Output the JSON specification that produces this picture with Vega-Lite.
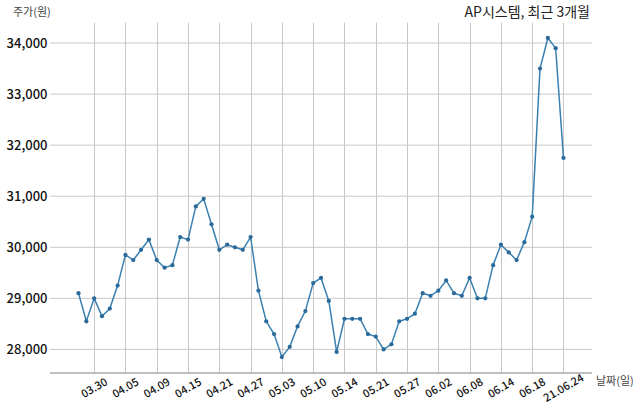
{
  "$schema": "https://vega.github.io/schema/vega-lite/v6.json",
  "autosize": {"type": "none"},
  "padding": {"left": 50, "top": 22, "right": 48, "bottom": 41},
  "width": 542,
  "height": 351,
  "background": "white",
  "config": {"view": {"stroke": null}, "font": "Noto Sans CJK KR"},
  "datasets": {"stock": [
    {"date": "03.26", "price": 29100},
    {"date": "03.29", "price": 28550},
    {"date": "03.30", "price": 29000},
    {"date": "03.31", "price": 28650},
    {"date": "04.01", "price": 28800},
    {"date": "04.02", "price": 29250},
    {"date": "04.05", "price": 29850},
    {"date": "04.06", "price": 29750},
    {"date": "04.07", "price": 29950},
    {"date": "04.08", "price": 30150},
    {"date": "04.09", "price": 29750},
    {"date": "04.12", "price": 29600},
    {"date": "04.13", "price": 29650},
    {"date": "04.14", "price": 30200},
    {"date": "04.15", "price": 30150},
    {"date": "04.16", "price": 30800},
    {"date": "04.19", "price": 30950},
    {"date": "04.20", "price": 30450},
    {"date": "04.21", "price": 29950},
    {"date": "04.22", "price": 30050},
    {"date": "04.23", "price": 30000},
    {"date": "04.26", "price": 29950},
    {"date": "04.27", "price": 30200},
    {"date": "04.28", "price": 29150},
    {"date": "04.29", "price": 28550},
    {"date": "04.30", "price": 28300},
    {"date": "05.03", "price": 27850},
    {"date": "05.04", "price": 28050},
    {"date": "05.06", "price": 28450},
    {"date": "05.07", "price": 28750},
    {"date": "05.10", "price": 29300},
    {"date": "05.11", "price": 29400},
    {"date": "05.12", "price": 28950},
    {"date": "05.13", "price": 27950},
    {"date": "05.14", "price": 28600},
    {"date": "05.17", "price": 28600},
    {"date": "05.18", "price": 28600},
    {"date": "05.20", "price": 28300},
    {"date": "05.21", "price": 28250},
    {"date": "05.24", "price": 28000},
    {"date": "05.25", "price": 28100},
    {"date": "05.26", "price": 28550},
    {"date": "05.27", "price": 28600},
    {"date": "05.28", "price": 28700},
    {"date": "05.31", "price": 29100},
    {"date": "06.01", "price": 29050},
    {"date": "06.02", "price": 29150},
    {"date": "06.03", "price": 29350},
    {"date": "06.04", "price": 29100},
    {"date": "06.07", "price": 29050},
    {"date": "06.08", "price": 29400},
    {"date": "06.09", "price": 29000},
    {"date": "06.10", "price": 29000},
    {"date": "06.11", "price": 29650},
    {"date": "06.14", "price": 30050},
    {"date": "06.15", "price": 29900},
    {"date": "06.16", "price": 29750},
    {"date": "06.17", "price": 30100},
    {"date": "06.18", "price": 30600},
    {"date": "06.21", "price": 33500},
    {"date": "06.22", "price": 34100},
    {"date": "06.23", "price": 33900},
    {"date": "21.06.24", "price": 31750}
  ]},
  "layer": [
    {
      "data": {"values": [{"level": 28000}, {"level": 29000}, {"level": 30000}, {"level": 31000}, {"level": 32000}, {"level": 33000}, {"level": 34000}]},
      "mark": {"type": "rule", "color": "#c8c8c8", "strokeWidth": 1},
      "encoding": {
        "y": {
          "field": "level", "type": "quantitative",
          "scale": {"domain": [27537.5, 34412.5], "nice": false, "zero": false},
          "axis": {
            "title": null, "values": [28000, 29000, 30000, 31000, 32000, 33000, 34000],
            "format": ",d", "labelFontSize": 13, "labelColor": "#111", "labelFont": "Noto Sans CJK KR",
            "labelFontWeight": 500, "labelPadding": 3,
            "grid": false, "ticks": false, "domain": false
          }
        }
      }
    },
    {
      "data": {"values": [{"level": 27537.5}]},
      "mark": {"type": "rule", "color": "#aaaaaa", "strokeWidth": 1.3},
      "encoding": {"y": {"field": "level", "type": "quantitative"}}
    },
    {
      "data": {"name": "stock"},
      "encoding": {
        "x": {
          "field": "date", "type": "ordinal", "sort": null,
          "scale": {"type": "point", "range": [24.6, 517.4]},
          "axis": {
            "title": null,
            "values": ["03.30", "04.05", "04.09", "04.15", "04.21", "04.27", "05.03", "05.10", "05.14", "05.21", "05.27", "06.02", "06.08", "06.14", "06.18", "21.06.24"],
            "labelAngle": -30, "labelAlign": "center", "labelBaseline": "middle",
            "labelFontSize": 11, "labelColor": "#111", "labelPadding": 15,
            "labelFont": "Noto Sans CJK KR", "labelFontWeight": 500,
            "grid": true, "gridColor": "#c8c8c8", "gridWidth": 1,
            "ticks": false, "domain": false
          }
        },
        "y": {
          "field": "price", "type": "quantitative",
          "scale": {"domain": [27537.5, 34412.5], "nice": false, "zero": false},
          "axis": {
            "title": null, "values": [28000, 29000, 30000, 31000, 32000, 33000, 34000],
            "format": ",d", "labelFontSize": 13, "labelColor": "#111", "labelFont": "Noto Sans CJK KR",
            "labelFontWeight": 500, "labelPadding": 3,
            "grid": false, "ticks": false, "domain": false
          }
        }
      },
      "layer": [
        {"mark": {"type": "line", "color": "#3a80b0", "strokeWidth": 1.5}},
        {"mark": {"type": "point", "filled": true, "color": "#2a6a9a", "size": 18, "opacity": 1}}
      ]
    },
    {
      "data": {"values": [{"t": "주가(원)"}]},
      "mark": {"type": "text", "align": "left", "baseline": "alphabetic", "fontSize": 11, "color": "#444", "x": -37, "y": -6},
      "encoding": {"text": {"field": "t"}}
    },
    {
      "data": {"values": [{"t": "AP시스템, 최근 3개월"}]},
      "mark": {"type": "text", "align": "right", "baseline": "alphabetic", "fontSize": 14, "color": "#222", "x": 540, "y": -5},
      "encoding": {"text": {"field": "t"}}
    },
    {
      "data": {"values": [{"t": "날짜(일)"}]},
      "mark": {"type": "text", "align": "left", "baseline": "middle", "fontSize": 11, "color": "#444", "x": 546, "y": 10, "dy": 350},
      "encoding": {"text": {"field": "t"}}
    }
  ]
}
